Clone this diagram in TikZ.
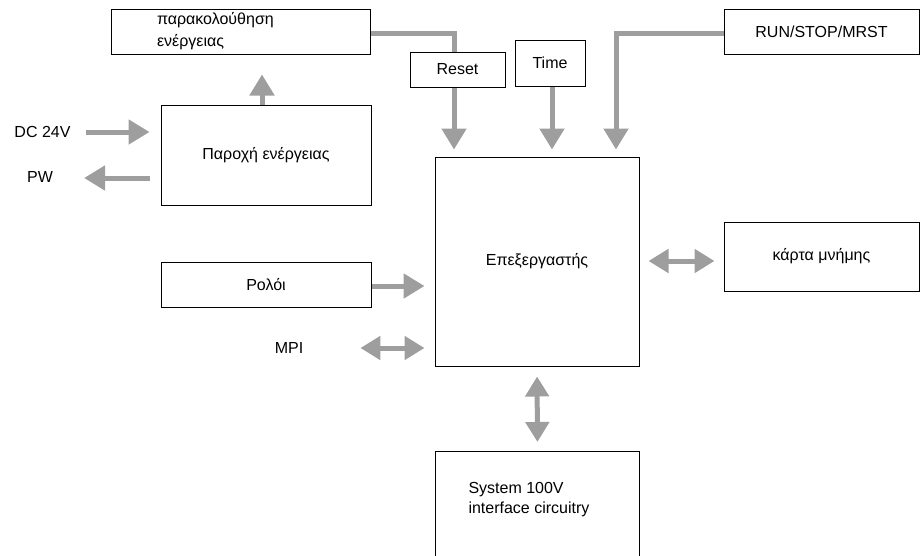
\documentclass[tikz,border=0pt]{standalone}
\usepackage{fontspec}
\setmainfont{Liberation Sans}
\usetikzlibrary{arrows.meta,positioning}
\definecolor{arrgray}{RGB}{158,158,158}
\tikzset{
  blk/.style = {rectangle, draw=black, line width=1pt, inner sep=0pt,
    font=\fontsize{16}{22}\selectfont},% plain block
  lbl/.style = {inner sep=0pt, font=\fontsize{16}{22}\selectfont},% free label
  bar/.style = {draw=arrgray, line width=5pt},% gray line, no tip
  fwd/.style = {bar, -{Triangle[width=24pt,length=21pt]}},% gray arrow
  both/.style = {bar, {Triangle[width=23pt,length=20pt]}-{Triangle[width=23pt,length=20pt]}}% gray double arrow
}

\begin{document}
\begin{tikzpicture}[x=1pt,y=-1pt]
\useasboundingbox (0,0) rectangle (920,555);
\clip (0,0) rectangle (920,555);
% blocks
\node [blk, minimum width=259pt, minimum height=45pt, align=left,
  text width=167pt, inner xsep=46pt] (monitor) at (240.5,31.5) {παρακολούθηση\\ενέργειας};
\node [blk, minimum width=95pt, minimum height=35pt] (reset) at (457.5,69.5) {Reset};
\node [blk, minimum width=70pt, minimum height=46pt] (time) at (550,63) {Time};
\node [blk, minimum width=195pt, minimum height=45pt] (run) at (821.5,31.5) {RUN/STOP/MRST};
\node [blk, minimum width=210pt, minimum height=100pt] (supply) at (266,155) {Παροχή ενέργειας};
\node [blk, minimum width=204pt, minimum height=209pt] (cpu) at (537,261.5) {Επεξεργαστής};
\node [blk, minimum width=210pt, minimum height=45pt] (clock) at (266,284.5) {Ρολόι};
\node [blk, minimum width=195pt, minimum height=69pt] (card) at (821.5,256.5) {κάρτα μνήμης};
\node [blk, anchor=north west, inner xsep=33pt] (sys) at (435,451)
  {\parbox[b][115pt][t]{138pt}{\fontsize{16}{19.5}\selectfont\vspace*{31pt}System 100V\\interface circuitry}};
% free labels
\node [lbl] (dc) at (42.5,132) {DC 24V};
\node [lbl] (pw) at (40,177) {PW};
\node [lbl] (mpi) at (289,348) {MPI};

% connectors
\draw [bar] ([yshift=-1.5pt]monitor.east) -| ([xshift=-3.5pt]reset.north);
\draw [fwd, shorten >=7pt] ([xshift=-3.5pt]reset.south) -- ([xshift=-3.5pt]reset.south |- cpu.north);
\draw [fwd, shorten >=7pt] ([xshift=2pt]time.south) -- ([xshift=2pt]time.south |- cpu.north);
\draw [fwd, shorten >=7pt] ([yshift=-1.5pt]run.west) -| ([xshift=79pt]cpu.north);
\draw [fwd, shorten >=20pt] ([xshift=-4pt]supply.north) -- ([xshift=-4pt]supply.north |- monitor.south);
\draw [fwd, shorten >=11pt] ([xshift=15pt]dc.east) -- (dc.east -| supply.west);
\draw [fwd, shorten <=11pt] ([yshift=-1pt]pw.east -| supply.west) -- ([xshift=31pt,yshift=-1pt]pw.east);
\draw [fwd, shorten >=10pt] ([yshift=-1.5pt]clock.east) -- ([yshift=-1.5pt]clock.east -| cpu.west);
\draw [both, shorten >=10pt] ([xshift=57pt]mpi.east) -- (mpi.east -| cpu.west);
\draw [both, shorten <=9pt, shorten >=9pt] ([yshift=0.5pt]cpu.east) -- ([yshift=0.5pt]cpu.east -| card.west);
\draw [both, shorten <=10pt, shorten >=9pt] (cpu.south) -- (sys.north);
\end{tikzpicture}
\end{document}
